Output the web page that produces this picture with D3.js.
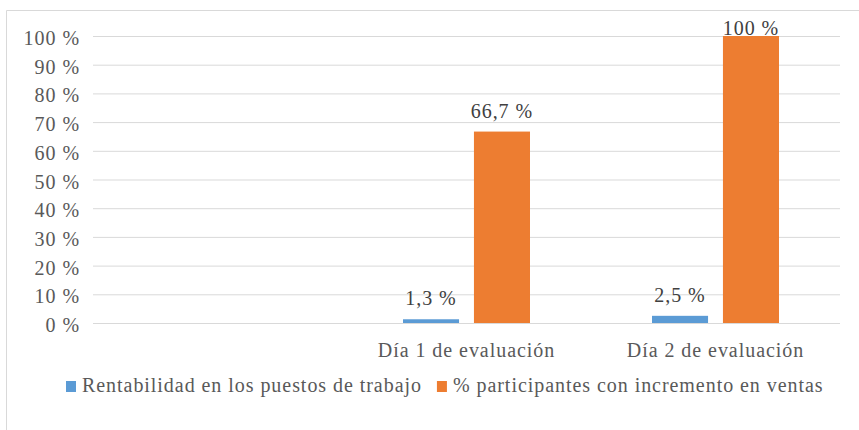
<!DOCTYPE html>
<html lang="es">
<head>
<meta charset="UTF-8">
<title>Rentabilidad e incremento en ventas</title>
<script src="https://d3js.org/d3.v7.min.js"></script>
<style>
    body { margin: 0; background: #fff; }
    svg text { font-family: "Liberation Serif", "DejaVu Serif", serif; font-size: 20px; fill: #595959; letter-spacing: 0.95px; }
</style>
</head>
<body>
<svg width="859" height="430"></svg>
<script>
    // datos del gráfico
    const categories = ["", "Día 1 de evaluación", "Día 2 de evaluación"];
    const seriesNames = ["Rentabilidad en los puestos de trabajo", "% participantes con incremento en ventas"];
    const rentabilidad = [null, 1.3, 2.5];
    const participantes = [null, 66.7, 100];
    const yTicks = [0, 10, 20, 30, 40, 50, 60, 70, 80, 90, 100];
    const colors = ["#5B9BD5", "#ED7D31"];

    const svg = d3.select("svg");
    const width = 859, height = 430;
    const plot = { left: 93, right: 840, top: 36, bottom: 323 };

    // marco del área del gráfico
    svg.append("path")
        .attr("d", `M6.5,${height} V10.5 H${width}`)
        .attr("fill", "none")
        .attr("stroke", "#d9d9d9");

    const y = d3.scaleLinear().domain([0, 100]).range([plot.bottom, plot.top]);
    const x0 = d3.scaleBand().domain(categories).range([plot.left, plot.right])
        .paddingInner(0.49).paddingOuter(0.245);
    const x1 = d3.scaleBand().domain(seriesNames).range([0, x0.bandwidth()])
        .paddingInner(0.21).paddingOuter(0);

    // líneas de cuadrícula
    svg.append("g")
        .attr("transform", `translate(${plot.left},0)`)
        .call(d3.axisLeft(y).tickValues(yTicks).tickSize(-(plot.right - plot.left)).tickFormat(d => d + " %"))
        .call(g => g.attr("font-family", null).attr("font-size", null))
        .call(g => g.select(".domain").remove())
        .call(g => g.selectAll(".tick line").attr("stroke", "#d9d9d9"))
        .call(g => g.selectAll(".tick text")
            .attr("x", -13).attr("dy", null).attr("y", 8.5)
            .attr("fill", null));

    const rows = categories.map((c, i) => ({
        cat: c,
        vals: [rentabilidad[i], participantes[i]]
    }));

    const fmt = v => d3.format(".1~f")(v).replace(".", ",") + " %";

    const groups = svg.append("g").selectAll("g")
        .data(rows)
        .join("g")
        .attr("transform", d => `translate(${x0(d.cat)},0)`);

    const cells = groups.selectAll("g")
        .data(d => d.vals.map((v, j) => ({ v, s: seriesNames[j], j })).filter(e => e.v != null))
        .join("g");

    cells.append("rect")
        .attr("x", e => x1(e.s))
        .attr("y", e => y(e.v))
        .attr("width", x1.bandwidth())
        .attr("height", e => y(0) - y(e.v))
        .attr("fill", e => colors[e.j]);

    cells.append("text")
        .attr("x", e => x1(e.s) + x1.bandwidth() / 2)
        .attr("y", e => Math.max(y(e.v) - 14, plot.top - 1))
        .attr("text-anchor", "middle")
        .style("fill", "#404040")
        .text(e => fmt(e.v));

    // etiquetas del eje x
    svg.append("g").selectAll("text")
        .data(categories)
        .join("text")
        .attr("x", d => x0(d) + x0.bandwidth() / 2)
        .attr("y", 357)
        .attr("text-anchor", "middle")
        .text(d => d);

    // leyenda
    const legend = svg.append("g");
    let lx = 66;
    seriesNames.forEach((name, i) => {
        legend.append("rect")
            .attr("x", lx).attr("y", 381)
            .attr("width", 10).attr("height", 11)
            .attr("fill", colors[i]);
        const t = legend.append("text")
            .attr("x", lx + 16).attr("y", 392)
            .text(name);
        lx += 16 + t.node().getComputedTextLength() + 15;
    });
</script>
</body>
</html>
